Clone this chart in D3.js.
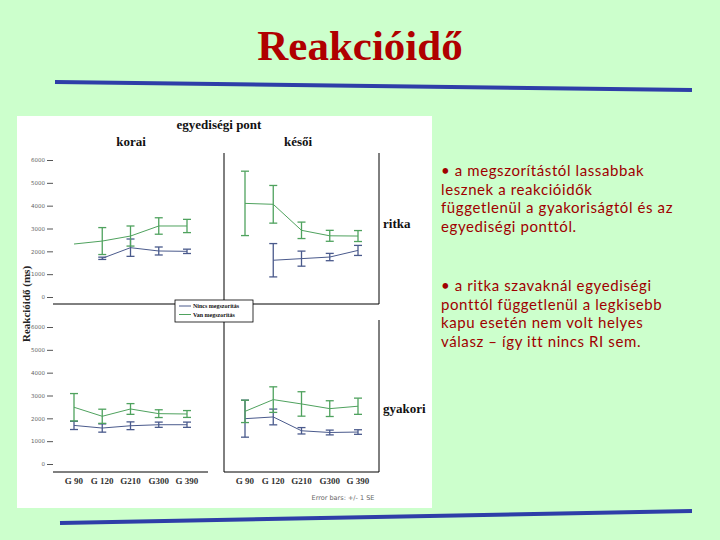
<!DOCTYPE html>
<html lang="hu">
<head>
<meta charset="utf-8">
<title>Reakcióidő</title>
<script src="https://cdn.jsdelivr.net/npm/d3@7"></script>
<style>
  body { margin: 0; background: #ccffcc; }
  svg { display: block; }
</style>
</head>
<body>
<div id="slide"></div>
<script>
// categories
var gates = ["G 90", "G 120", "G210", "G300", "G 390"];
var yTicks = [0, 1000, 2000, 3000, 4000, 5000, 6000];
var seriesNames = ["Nincs megszorítás", "Van megszorítás"];

// korai / ritka
var koraiRitkaNincs   = [null, 1695, 2160, 2015, 2000];
var koraiRitkaNincsSE = [null, 50, 380, 175, 95];
var koraiRitkaVan     = [2320, 2450, 2670, 3110, 3110];
var koraiRitkaVanSE   = [0, 590, 440, 360, 290];
// késői / ritka
var kesoiRitkaNincs   = [null, 1610, 1680, 1750, 2040];
var kesoiRitkaNincsSE = [null, 730, 330, 160, 220];
var kesoiRitkaVan     = [4100, 4060, 2920, 2680, 2670];
var kesoiRitkaVanSE   = [1410, 825, 360, 240, 240];
// korai / gyakori
var koraiGyakoriNincs   = [1690, 1575, 1675, 1720, 1720];
var koraiGyakoriNincsSE = [180, 180, 170, 115, 115];
var koraiGyakoriVan     = [2485, 2090, 2410, 2205, 2190];
var koraiGyakoriVanSE   = [600, 310, 235, 170, 150];
// késői / gyakori
var kesoiGyakoriNincs   = [1985, 2060, 1455, 1380, 1400];
var kesoiGyakoriNincsSE = [810, 345, 140, 105, 100];
var kesoiGyakoriVan     = [2305, 2820, 2630, 2425, 2530];
var kesoiGyakoriVanSE   = [490, 560, 535, 345, 355];

var bullets = [
    ["• a megszorítástól lassabbak", "lesznek a reakcióidők", "függetlenül a gyakoriságtól és az", "egyediségi ponttól."],
    ["• a ritka szavaknál egyediségi", "ponttól függetlenül a legkisebb", "kapu esetén nem volt helyes", "válasz – így itt nincs RI sem."]
];

var blue = "#4a5a8c", green = "#4fa25e";
var W = 720, H = 540;

var svg = d3.select("#slide").append("svg")
    .attr("width", W).attr("height", H);

svg.append("rect").attr("width", W).attr("height", H).attr("fill", "#ccffcc");

// title
svg.append("text")
    .attr("x", 360).attr("y", 60)
    .attr("text-anchor", "middle")
    .style("font-family", "'Liberation Serif', 'Times New Roman', serif")
    .style("font-weight", "bold")
    .style("font-size", "43px")
    .style("fill", "#b00000")
    .text("Reakcióidő");

// decorative rules
var rule = d3.line();
svg.append("path").attr("d", rule([[55, 82], [692, 90]]))
    .attr("stroke", "#2e3ea8").attr("stroke-width", 4).attr("fill", "none");
svg.append("path").attr("d", rule([[60, 523], [692, 511]]))
    .attr("stroke", "#2e3ea8").attr("stroke-width", 4).attr("fill", "none");

// white chart panel
svg.append("rect").attr("x", 17).attr("y", 116).attr("width", 415).attr("height", 392).attr("fill", "#fff");

var serif = "'Liberation Serif', 'Times New Roman', serif";

var panels = [
    {x0: 53, top: 153, base: 297, bottom: 304, nincs: koraiRitkaNincs, nincsSE: koraiRitkaNincsSE, van: koraiRitkaVan, vanSE: koraiRitkaVanSE, left: true, xlab: false},
    {x0: 224, top: 153, base: 297, bottom: 304, nincs: kesoiRitkaNincs, nincsSE: kesoiRitkaNincsSE, van: kesoiRitkaVan, vanSE: kesoiRitkaVanSE, left: false, xlab: false},
    {x0: 53, top: 320, base: 464, bottom: 472, nincs: koraiGyakoriNincs, nincsSE: koraiGyakoriNincsSE, van: koraiGyakoriVan, vanSE: koraiGyakoriVanSE, left: true, xlab: true},
    {x0: 224, top: 320, base: 464, bottom: 472, nincs: kesoiGyakoriNincs, nincsSE: kesoiGyakoriNincsSE, van: kesoiGyakoriVan, vanSE: kesoiGyakoriVanSE, left: false, xlab: true}
];

panels.forEach(function(p) {
    var x = d3.scalePoint().domain(gates).range([p.x0 + 21, p.x0 + 134]);
    var y = d3.scaleLinear().domain([0, 6000]).range([p.base, p.base - 137]);
    var g = svg.append("g");

    // frame lines
    g.append("line").attr("x1", p.x0).attr("x2", p.x0 + 155)
        .attr("y1", p.bottom).attr("y2", p.bottom)
        .attr("stroke", "#000").attr("stroke-width", 1);
    if (!p.left) {
        g.append("line").attr("x1", p.x0).attr("x2", p.x0)
            .attr("y1", p.top).attr("y2", p.bottom).attr("stroke", "#000");
        g.append("line").attr("x1", p.x0 + 155).attr("x2", p.x0 + 155)
            .attr("y1", p.top).attr("y2", p.bottom).attr("stroke", "#000");
    } else {
        var ax = g.append("g")
            .attr("transform", "translate(" + p.x0 + ",0)")
            .call(d3.axisLeft(y).tickValues(yTicks).tickFormat(d3.format("d")).tickSize(6).tickPadding(2));
        ax.select(".domain").remove();
        ax.selectAll("line").attr("stroke", "#555");
        ax.selectAll("text").style("font-size", "5.5px").style("fill", "#666")
            .style("font-family", "'DejaVu Sans', sans-serif");
    }

    if (p.xlab) {
        g.selectAll(".xl").data(gates).enter().append("text")
            .attr("x", function(d) { return x(d); })
            .attr("y", p.bottom + 12)
            .attr("text-anchor", "middle")
            .style("font-family", serif).style("font-size", "9px").style("font-weight", "bold")
            .style("fill", "#333")
            .text(function(d) { return d; });
    }

    [[p.nincs, p.nincsSE, blue], [p.van, p.vanSE, green]].forEach(function(s) {
        var pts = gates.map(function(gname, i) { return {g: gname, m: s[0][i], se: s[1][i]}; })
            .filter(function(d) { return d.m !== null; });
        g.append("path")
            .attr("d", d3.line().x(function(d) { return x(d.g); }).y(function(d) { return y(d.m); })(pts))
            .attr("fill", "none").attr("stroke", s[2]).attr("stroke-width", 1);
        var eb = g.selectAll(null).data(pts.filter(function(d) { return d.se > 0; })).enter().append("g")
            .attr("stroke", s[2]).attr("stroke-width", 1.3);
        eb.append("line")
            .attr("x1", function(d) { return x(d.g); }).attr("x2", function(d) { return x(d.g); })
            .attr("y1", function(d) { return y(d.m + d.se); }).attr("y2", function(d) { return y(d.m - d.se); });
        eb.append("line")
            .attr("x1", function(d) { return x(d.g) - 4; }).attr("x2", function(d) { return x(d.g) + 4; })
            .attr("y1", function(d) { return y(d.m + d.se); }).attr("y2", function(d) { return y(d.m + d.se); });
        eb.append("line")
            .attr("x1", function(d) { return x(d.g) - 4; }).attr("x2", function(d) { return x(d.g) + 4; })
            .attr("y1", function(d) { return y(d.m - d.se); }).attr("y2", function(d) { return y(d.m - d.se); });
    });
});

// facet labels
function label(txt, x, y, size, anchor) {
    svg.append("text").attr("x", x).attr("y", y)
        .attr("text-anchor", anchor || "middle")
        .style("font-family", serif).style("font-weight", "bold")
        .style("font-size", size + "px").style("fill", "#111")
        .text(txt);
}
label("egyediségi pont", 219, 129, 13);
label("korai", 131, 146, 13);
label("késői", 298, 146, 13);
label("ritka", 383, 228, 13, "start");
label("gyakori", 383, 413, 13, "start");

svg.append("text")
    .attr("transform", "translate(30,304) rotate(-90)")
    .attr("text-anchor", "middle")
    .style("font-family", serif).style("font-weight", "bold")
    .style("font-size", "11px").style("fill", "#222")
    .text("Reakcióidő (ms)");

svg.append("text").attr("x", 343).attr("y", 500)
    .attr("text-anchor", "middle")
    .style("font-family", "'DejaVu Sans', sans-serif").style("font-size", "6.5px").style("fill", "#666")
    .text("Error bars: +/- 1 SE");

// legend
var lg = svg.append("g");
lg.append("rect").attr("x", 175).attr("y", 300).attr("width", 78).attr("height", 22)
    .attr("fill", "#fff").attr("stroke", "#000").attr("stroke-width", 0.8);
[blue, green].forEach(function(c, i) {
    lg.append("line").attr("x1", 179).attr("x2", 191)
        .attr("y1", 306 + i * 8.5).attr("y2", 306 + i * 8.5)
        .attr("stroke", c).attr("stroke-width", 1);
    lg.append("text").attr("x", 193).attr("y", 308 + i * 8.5)
        .style("font-family", serif).style("font-weight", "bold")
        .style("font-size", "6px").style("fill", "#111")
        .text(seriesNames[i]);
});

// bullet text
var bt = svg.append("g");
bullets.forEach(function(par, pi) {
    par.forEach(function(line, li) {
        bt.append("text")
            .attr("x", 441).attr("y", 176 + pi * 115 + li * 18.7)
            .style("font-family", "Lato, 'Open Sans', sans-serif")
            .style("font-size", "15px").style("letter-spacing", "0.6px")
            .style("fill", "#a00000")
            .text(line);
    });
});
</script>
</body>
</html>
